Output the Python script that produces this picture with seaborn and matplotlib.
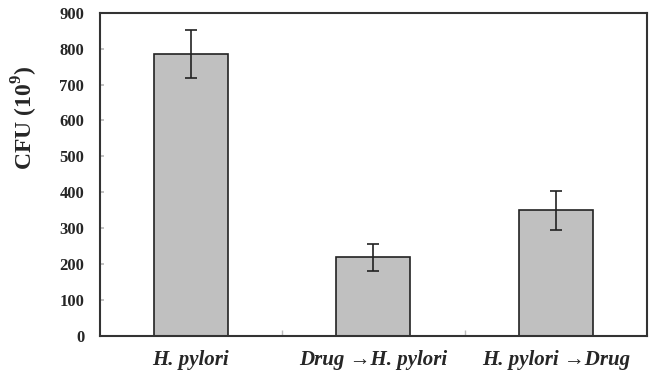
import matplotlib
matplotlib.use("Agg")
import matplotlib.pyplot as plt
import seaborn as sns
import pandas as pd
import numpy as np

categories = ["H. pylori", "Drug \u2192H. pylori", "H. pylori \u2192Drug"]
cfu = [785, 219, 350]
err = [66, 37, 55]
yticks = [0, 100, 200, 300, 400, 500, 600, 700, 800, 900]

sns.set_theme(style="white")
plt.rcParams['font.family'] = ['Liberation Serif', 'DejaVu Serif']
plt.rcParams['mathtext.fontset'] = 'custom'
plt.rcParams['mathtext.rm'] = 'Liberation Serif'
plt.rcParams['mathtext.bf'] = 'Liberation Serif:bold'

df = pd.DataFrame({"cat": categories, "cfu": cfu})

fig = plt.figure(figsize=(6.51, 3.78), dpi=100)
ax = fig.add_axes([99.5/651, (378-336)/378, (647-99.5)/651, (336-12.7)/378])

sns.barplot(data=df, x="cat", y="cfu", ax=ax, color="#c0c0c0", saturation=1,
            width=0.405, edgecolor="#222222", linewidth=1.2, errorbar=None)

centers = [p.get_x() + p.get_width() / 2 for p in ax.patches]
ax.errorbar(centers, cfu, yerr=err, fmt="none", ecolor="#222222",
            elinewidth=1.2, capsize=4, capthick=1.2)

ax.set_xlim(-0.5, len(categories) - 0.5)
ax.set_ylim(0, 900)
ax.set_yticks(yticks)
ax.set_yticklabels([str(v) for v in yticks], fontsize=12, fontweight="bold")
ax.set_xticks(range(len(categories)))
ax.set_xticklabels(categories, fontsize=15, fontweight="bold", style="italic")
ax.tick_params(axis="x", length=0, pad=10)
ax.tick_params(axis="y", direction="in", length=3, color="#bbbbbb", pad=11, left=True)
ax.set_xticks([0.5, 1.5], minor=True)
ax.tick_params(axis="x", which="minor", direction="in", length=4, color="#bbbbbb", bottom=True)

ax.set_xlabel("")
ax.set_ylabel(r"CFU (10$^{\mathbf{9}}$)", fontsize=17, fontweight="bold")
ax.yaxis.set_label_coords(-0.108, 0.675)

for s in ax.spines.values():
    s.set_visible(True)
    s.set_color("#333333")
    s.set_linewidth(1.5)

fig.savefig("out.png", dpi=100, facecolor="white")
